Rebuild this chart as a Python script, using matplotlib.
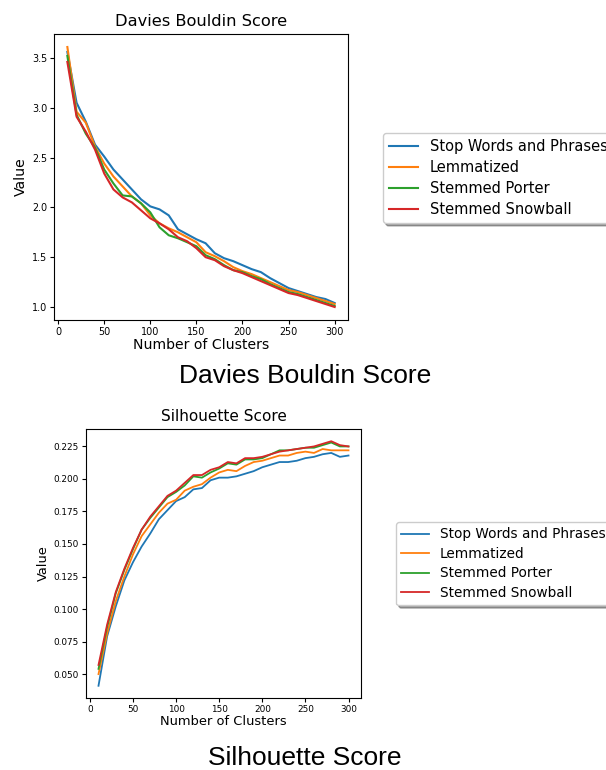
import matplotlib
matplotlib.use("Agg")
import matplotlib.pyplot as plt

clusters = list(range(10, 301, 10))
series_names = ["Stop Words and Phrases", "Lemmatized", "Stemmed Porter", "Stemmed Snowball"]
colors = ["#1f77b4", "#ff7f0e", "#2ca02c", "#d62728"]

db_stop = [3.56, 3.05, 2.86, 2.63, 2.51, 2.38, 2.28, 2.18, 2.08, 2.01,
           1.98, 1.92, 1.78, 1.73, 1.68, 1.64, 1.54, 1.49, 1.46, 1.42,
           1.38, 1.35, 1.29, 1.24, 1.19, 1.16, 1.13, 1.10, 1.08, 1.04]
db_lem = [3.61, 2.96, 2.85, 2.61, 2.44, 2.31, 2.21, 2.11, 2.04, 1.92,
          1.84, 1.79, 1.75, 1.70, 1.65, 1.55, 1.51, 1.46, 1.40, 1.36,
          1.33, 1.29, 1.25, 1.21, 1.17, 1.15, 1.12, 1.09, 1.06, 1.03]
db_porter = [3.52, 2.93, 2.74, 2.60, 2.38, 2.24, 2.12, 2.11, 2.04, 1.95,
             1.80, 1.72, 1.69, 1.65, 1.61, 1.52, 1.48, 1.42, 1.37, 1.35,
             1.31, 1.28, 1.23, 1.19, 1.15, 1.13, 1.10, 1.07, 1.04, 1.01]
db_snow = [3.46, 2.91, 2.76, 2.58, 2.34, 2.18, 2.10, 2.05, 1.97, 1.89,
           1.84, 1.78, 1.70, 1.66, 1.59, 1.50, 1.47, 1.41, 1.37, 1.34,
           1.30, 1.26, 1.22, 1.18, 1.14, 1.12, 1.09, 1.06, 1.03, 1.00]

sil_stop = [0.041, 0.079, 0.102, 0.122, 0.136, 0.148, 0.158, 0.169, 0.176, 0.183,
            0.186, 0.192, 0.193, 0.199, 0.201, 0.201, 0.202, 0.204, 0.206, 0.209,
            0.211, 0.213, 0.213, 0.214, 0.216, 0.217, 0.219, 0.220, 0.217, 0.218]
sil_lem = [0.050, 0.081, 0.106, 0.125, 0.142, 0.156, 0.165, 0.174, 0.181, 0.184,
           0.191, 0.194, 0.196, 0.201, 0.205, 0.207, 0.206, 0.210, 0.213, 0.214,
           0.216, 0.218, 0.218, 0.220, 0.221, 0.220, 0.223, 0.222, 0.222, 0.222]
sil_porter = [0.054, 0.086, 0.112, 0.130, 0.146, 0.161, 0.170, 0.178, 0.186, 0.190,
              0.195, 0.202, 0.201, 0.205, 0.208, 0.212, 0.211, 0.215, 0.215, 0.216,
              0.219, 0.222, 0.222, 0.223, 0.224, 0.224, 0.226, 0.228, 0.225, 0.225]
sil_snow = [0.057, 0.088, 0.113, 0.131, 0.147, 0.161, 0.171, 0.179, 0.187, 0.191,
            0.197, 0.203, 0.203, 0.207, 0.209, 0.213, 0.212, 0.216, 0.216, 0.217,
            0.219, 0.221, 0.222, 0.223, 0.224, 0.225, 0.227, 0.229, 0.226, 0.225]

W, H = 606, 770
fig = plt.figure(figsize=(W / 100, H / 100), dpi=100)


def make_panel(rect, data, title, fs_title, fs_label, fs_tick, fs_leg, lw, leg_xy,
               leg_spacing, caption, cap_y):
    ax = fig.add_axes([rect[0] / W, 1 - rect[3] / H, (rect[2] - rect[0]) / W, (rect[3] - rect[1]) / H])
    for name, vals, c in zip(series_names, data, colors):
        ax.plot(clusters, vals, color=c, lw=lw, label=name)
    ax.set_title(title, fontsize=fs_title, family="DejaVu Sans")
    ax.set_xlabel("Number of Clusters", fontsize=fs_label, labelpad=1)
    ax.set_ylabel("Value", fontsize=fs_label, labelpad=3)
    ax.tick_params(labelsize=fs_tick, length=3, pad=2)
    ax.set_xticks([0, 50, 100, 150, 200, 250, 300])
    handles, labels = ax.get_legend_handles_labels()
    fig.legend(handles, labels, loc="upper left",
               bbox_to_anchor=(leg_xy[0] / W, 1 - leg_xy[1] / H),
               bbox_transform=fig.transFigure, borderaxespad=0,
               fontsize=fs_leg, shadow=True, frameon=True,
               labelspacing=leg_spacing)
    fig.text(305 / W, 1 - cap_y / H, caption, ha="center", va="center",
             fontsize=19, family="Liberation Sans")
    return ax


ax1 = make_panel((54, 34, 348, 320), [db_stop, db_lem, db_porter, db_snow],
                 "Davies Bouldin Score", 11.7, 10.1, 6.9, 10.5, 1.5,
                 (383, 133), 0.42, "Davies Bouldin Score", 376)
ax2 = make_panel((86, 429, 361, 698), [sil_stop, sil_lem, sil_porter, sil_snow],
                 "Silhouette Score", 11.0, 9.4, 6.4, 9.8, 1.3,
                 (396, 522), 0.4, "Silhouette Score", 758)

fig.savefig("out.png", dpi=100)
